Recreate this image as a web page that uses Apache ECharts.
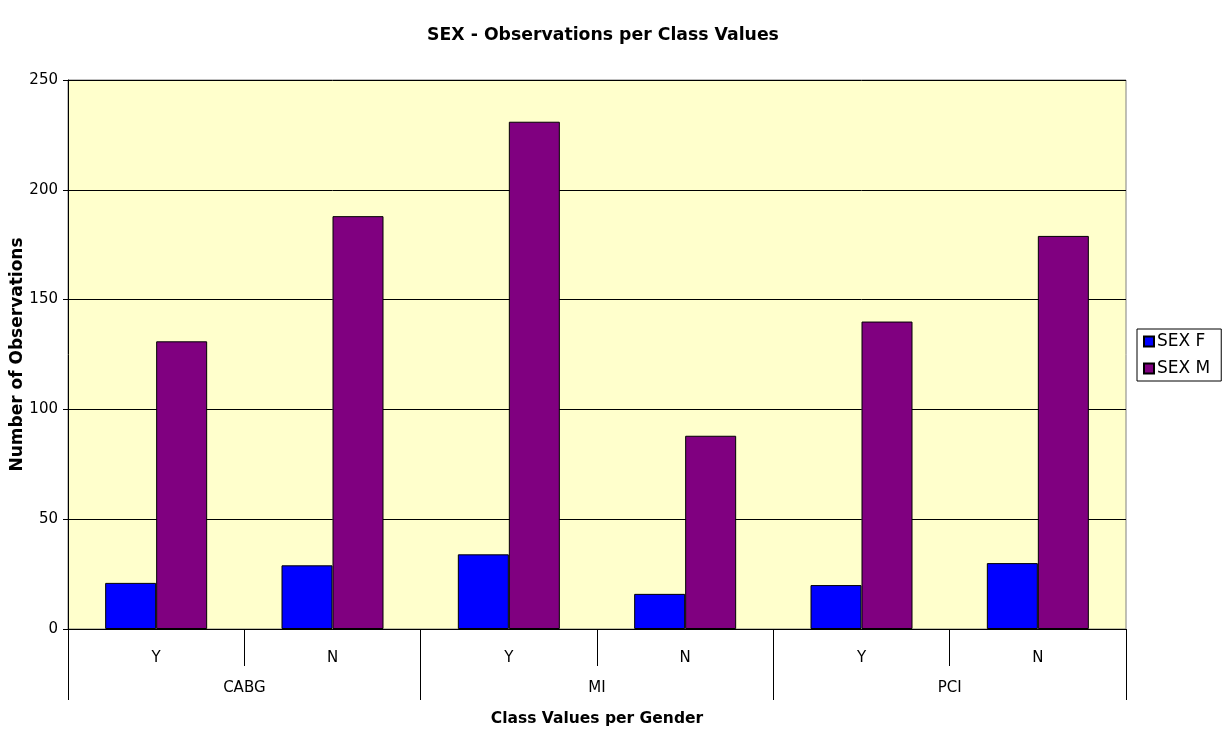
<!DOCTYPE html>
<html>
<head>
<meta charset="utf-8">
<script src="https://cdn.jsdelivr.net/npm/echarts@6/dist/echarts.min.js"></script>
<style>
  html, body { margin: 0; padding: 0; background: #fff; }
  #chart { width: 1229px; height: 731px; }
</style>
</head>
<body>
<div id="chart"></div>
<script>
// Class values (inner axis) and their groups (outer axis)
const classValues = ['Y', 'N', 'Y', 'N', 'Y', 'N'];
const groups = ['CABG', 'MI', 'PCI'];

// Observation counts per class value
const sexF = [21, 29, 34, 16, 20, 30];
const sexM = [131, 188, 231, 88, 140, 179];

const yTicks = { min: 0, max: 250, interval: 50 };

const FONT = 'DejaVu Sans, sans-serif';

const chart = echarts.init(document.getElementById('chart'));

chart.setOption({
  animation: false,
  backgroundColor: '#ffffff',
  textStyle: { fontFamily: FONT },
  title: {
    text: 'SEX - Observations per Class Values',
    left: 598,
    top: 22,
    textAlign: 'center',
    textStyle: { fontFamily: FONT, fontSize: 17.3, fontWeight: 'bold', color: '#000' }
  },
  legend: {
    orient: 'vertical',
    left: 1137,
    top: 329,
    icon: 'rect',
    itemWidth: 10,
    itemHeight: 10,
    itemGap: 10,
    padding: [4, 11, 4, 6],
    borderColor: '#000',
    borderWidth: 1,
    textStyle: { fontFamily: FONT, fontSize: 17, color: '#000', padding: [0, 0, 0, -2] },
    data: ['SEX F', 'SEX M']
  },
  grid: {
    left: 68,
    right: 103,
    top: 80,
    bottom: 102,
    outerBoundsMode: 'none',
    containLabel: false,
    show: true,
    backgroundColor: '#FFFFCC',
    borderColor: '#808080',
    borderWidth: 1
  },
  xAxis: [
    {
      type: 'category',
      position: 'bottom',
      data: classValues,
      axisLine: { show: true, lineStyle: { color: '#000', width: 1 } },
      axisTick: { show: true, length: 37, lineStyle: { color: '#000' } },
      axisLabel: { margin: 22, fontFamily: FONT, fontSize: 15, color: '#000' },
      splitLine: { show: false }
    },
    {
      type: 'category',
      position: 'bottom',
      offset: 0,
      data: groups,
      axisLine: { show: false },
      axisTick: { show: true, length: 71, lineStyle: { color: '#000' } },
      axisLabel: { margin: 52, fontFamily: FONT, fontSize: 15, color: '#000' },
      splitLine: { show: false },
      name: 'Class Values per Gender',
      nameLocation: 'middle',
      nameGap: 82,
      nameMoveOverlap: false,
      nameTextStyle: { fontFamily: FONT, fontSize: 15.5, fontWeight: 'bold', color: '#000' }
    }
  ],
  yAxis: {
    type: 'value',
    min: yTicks.min,
    max: yTicks.max,
    interval: yTicks.interval,
    name: 'Number of Observations',
    nameLocation: 'middle',
    nameRotate: 90,
    nameGap: 42,
    nameMoveOverlap: false,
    nameTextStyle: { fontFamily: FONT, fontSize: 17, fontWeight: 'bold', color: '#000' },
    axisLine: { show: true, lineStyle: { color: '#000', width: 1 } },
    axisTick: { show: true, length: 5, lineStyle: { color: '#000' } },
    axisLabel: { margin: 10, fontFamily: FONT, fontSize: 15, color: '#000' },
    splitLine: { show: true, lineStyle: { color: '#000', width: 1 } }
  },
  series: [
    {
      name: 'SEX F',
      type: 'bar',
      xAxisIndex: 0,
      data: sexF,
      barWidth: 51,
      barGap: '0%',
      itemStyle: { color: '#0000FF', borderColor: '#000', borderWidth: 1 }
    },
    {
      name: 'SEX M',
      type: 'bar',
      xAxisIndex: 0,
      data: sexM,
      barWidth: 51,
      barGap: '0%',
      itemStyle: { color: '#800080', borderColor: '#000', borderWidth: 1 }
    }
  ]
});
</script>
</body>
</html>
